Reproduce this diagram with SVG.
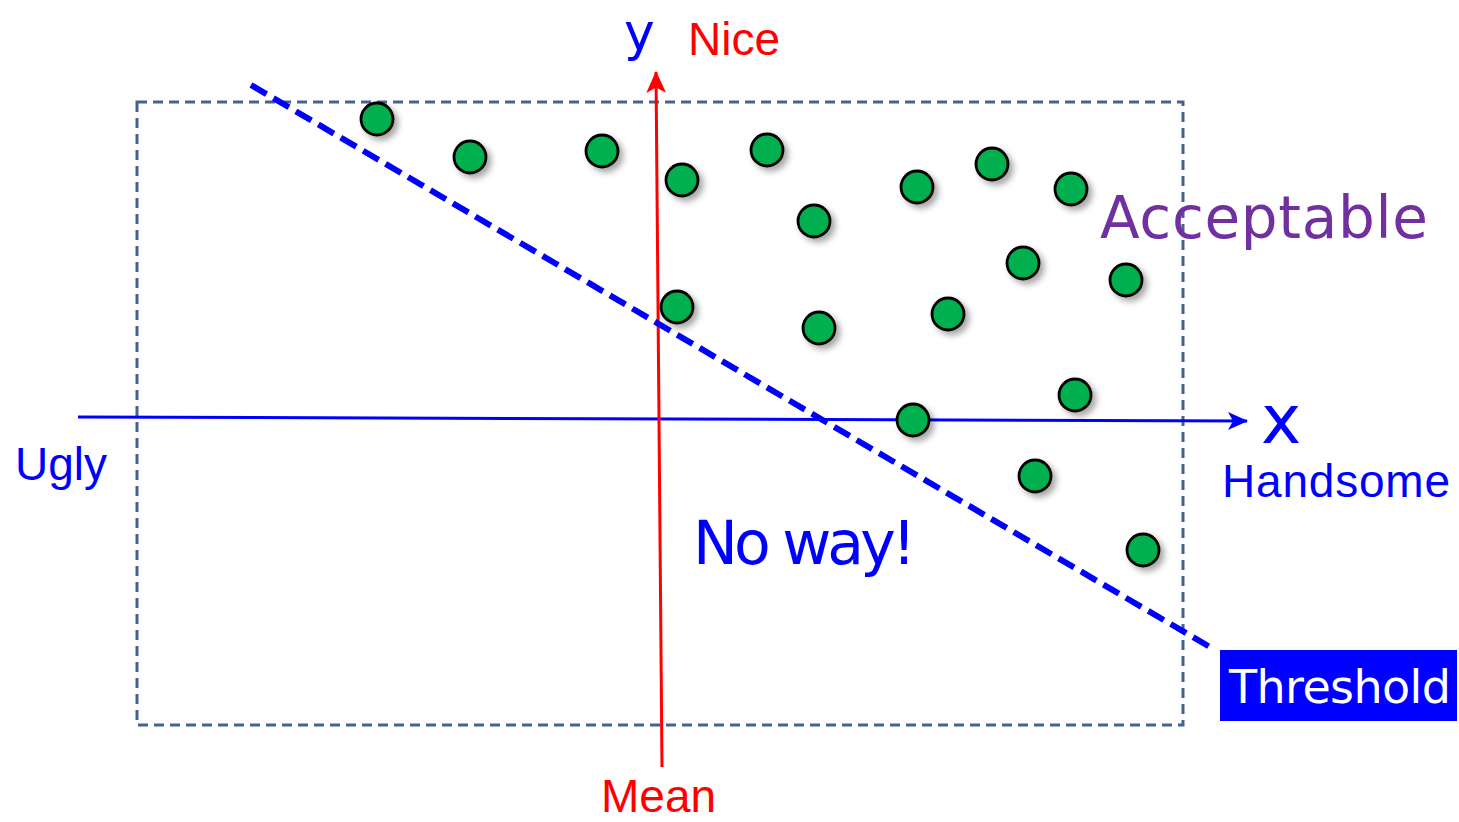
<svg xmlns="http://www.w3.org/2000/svg" width="1459" height="822" viewBox="0 0 1459 822">
<style>
.dot{fill:#00B050;stroke:#000;stroke-width:2.8}
.arial{font-family:"Liberation Sans",Arial,sans-serif}
.comic{font-family:"DejaVu Sans",sans-serif}
</style>
<defs>
<filter id="sh" x="-50%" y="-50%" width="200%" height="200%">
<feDropShadow dx="4" dy="4" stdDeviation="3" flood-color="#000" flood-opacity="0.35"/>
</filter>
<marker id="ab" viewBox="0 0 20 20" refX="19" refY="10" markerWidth="20" markerHeight="20" markerUnits="userSpaceOnUse" orient="auto">
<path d="M0,1 L20,10 L0,19 L5,10 z" fill="#0000FF"/>
</marker>
<marker id="ar" viewBox="0 0 20 20" refX="19" refY="10" markerWidth="22" markerHeight="22" markerUnits="userSpaceOnUse" orient="auto">
<path d="M0,1 L20,10 L0,19 L5,10 z" fill="#FF0000"/>
</marker>
</defs>
<rect width="1459" height="822" fill="#fff"/>
<g id="frame">
<rect x="137" y="102" width="1046" height="623" fill="none" stroke="#44648E" stroke-width="3" stroke-dasharray="10 6"/>
</g>
<g id="connectors">
<line x1="78" y1="417" x2="1247" y2="421" stroke="#0000FF" stroke-width="3" marker-end="url(#ab)"/>
<line x1="662" y1="767" x2="656" y2="72" stroke="#FF0000" stroke-width="3" marker-end="url(#ar)"/>
<line id="threshold-line" x1="251" y1="85" x2="1215" y2="650" stroke="#0000FF" stroke-width="6" stroke-dasharray="18 8"/>
</g>
<g id="dots" filter="url(#sh)">
<circle class="dot" cx="377" cy="119" r="16"/>
<circle class="dot" cx="470" cy="157" r="16"/>
<circle class="dot" cx="602" cy="151" r="16"/>
<circle class="dot" cx="682" cy="180" r="16"/>
<circle class="dot" cx="767" cy="150" r="16"/>
<circle class="dot" cx="814" cy="221" r="16"/>
<circle class="dot" cx="917" cy="187" r="16"/>
<circle class="dot" cx="992" cy="164" r="16"/>
<circle class="dot" cx="1071" cy="189" r="16"/>
<circle class="dot" cx="1023" cy="263" r="16"/>
<circle class="dot" cx="1126" cy="280" r="16"/>
<circle class="dot" cx="677" cy="307" r="16"/>
<circle class="dot" cx="819" cy="328" r="16"/>
<circle class="dot" cx="948" cy="314" r="16"/>
<circle class="dot" cx="1075" cy="395" r="16"/>
<circle class="dot" cx="913" cy="420" r="16"/>
<circle class="dot" cx="1035" cy="476" r="16"/>
<circle class="dot" cx="1143" cy="550" r="16"/>
</g>
<g id="labels">
<text class="comic" x="624" y="50" font-size="52" fill="#0000FF">y</text>
<text class="arial" x="688" y="55" font-size="46" fill="#FF0000">Nice</text>
<text class="comic" x="1261" y="443" font-size="68" fill="#0000FF">x</text>
<text class="arial" x="1222" y="497" font-size="46" fill="#0000FF" textLength="228">Handsome</text>
<text class="arial" x="15" y="480" font-size="46" fill="#0000FF">Ugly</text>
<text class="arial" x="601" y="812" font-size="46" fill="#FF0000">Mean</text>
<text class="comic" x="1100" y="238" font-size="58" fill="#7030A0" textLength="328">Acceptable</text>
<text class="comic" x="693" y="564" font-size="60" fill="#0000FF" textLength="223">No way!</text>
</g>
<g id="threshold">
<rect x="1220" y="650" width="237" height="71" fill="#0000FF"/>
<text class="comic" x="1229" y="703" font-size="46" fill="#fff" textLength="222">Threshold</text>
</g>
</svg>
